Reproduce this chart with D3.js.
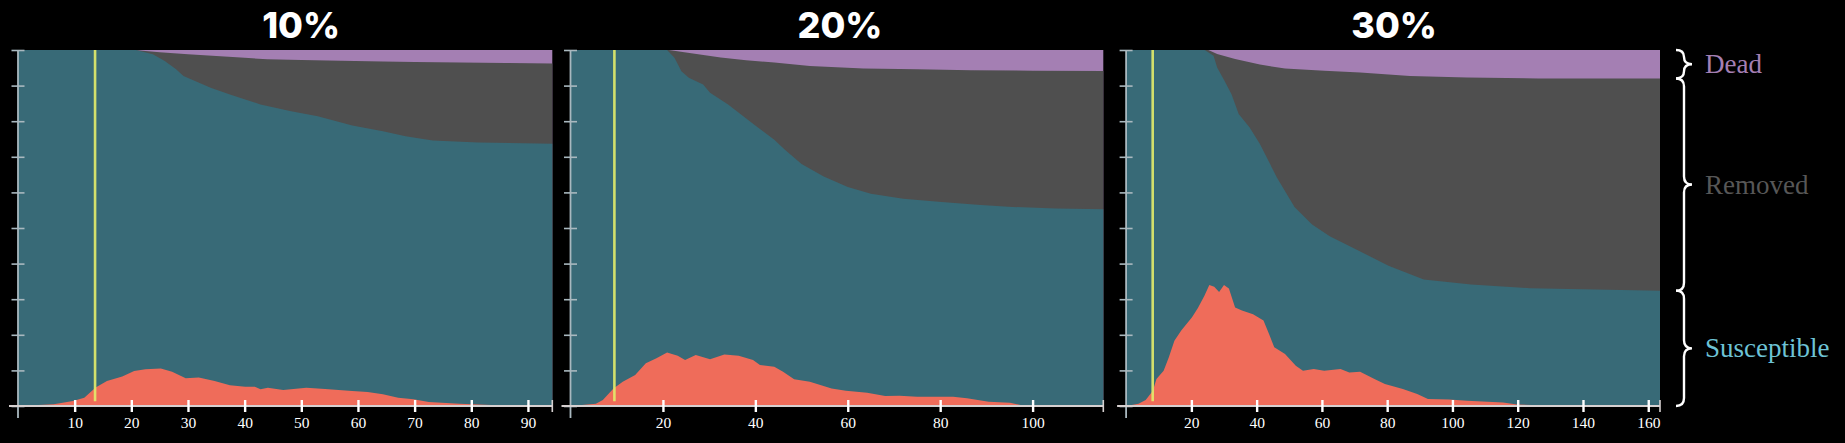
<!DOCTYPE html>
<html>
<head>
<meta charset="utf-8">
<script src="https://cdn.jsdelivr.net/npm/d3@7"></script>
<style>
  html, body { margin: 0; padding: 0; background: #000; }
  svg { display: block; }
</style>
</head>
<body>
<script>
// ---------------- DATA (fractions in %, days on x) ----------------
const titles = ["10%", "20%", "30%"];
const dayMax = [94.3, 115.3, 163.6];
const markerDays = [13.6, 9.5, 8.15];

const p1Ticks = [10, 20, 30, 40, 50, 60, 70, 80, 90];
const p2Ticks = [20, 40, 60, 80, 100];
const p3Ticks = [20, 40, 60, 80, 100, 120, 140, 160];

// Panel 1 (10%)
const p1DeadDays = [0, 20.8, 22, 25, 30, 35, 40, 44, 50, 57, 64.4, 70, 78, 86, 94.3];
const p1Dead     = [0, 0, 0.2, 0.6, 1.2, 1.7, 2.2, 2.6, 2.8, 3.0, 3.2, 3.35, 3.5, 3.65, 3.8];
const p1GoneDays = [0, 20.8, 23.8, 25.9, 27.9, 29.2, 34, 37.4, 42.8, 48.2, 52.9, 59, 64.4, 68.4, 73.2, 81.2, 94.3];
const p1Gone     = [0, 0, 1.2, 3.1, 5.4, 7.3, 10.6, 12.5, 15.3, 17.2, 18.6, 21.2, 22.8, 24.2, 25.4, 26.0, 26.3];
const p1InfDays  = [0, 6.3, 9.7, 11.7, 13.7, 15.7, 18.4, 20.5, 22.5, 25.2, 27.2, 29.6, 31.9, 34.7, 37.4, 40.1, 41.8, 42.8, 44.1, 46.8, 50.9, 54.2, 59, 61.7, 64.4, 67.1, 69.8, 72.5, 77.9, 84.7, 92, 94.3];
const p1Inf      = [0, 0.5, 1.4, 2.3, 5.2, 7.0, 8.3, 9.8, 10.3, 10.5, 9.6, 7.8, 8.0, 7.0, 5.8, 5.4, 5.4, 4.7, 5.1, 4.5, 5.1, 4.8, 4.2, 3.9, 3.3, 2.3, 1.9, 1.1, 0.6, 0.2, 0, 0];

// Panel 2 (20%)
const p2DeadDays = [0, 21.3, 25, 32.5, 38, 44.1, 51.8, 63.4, 75, 86.6, 100, 115.3];
const p2Dead     = [0, 0, 0.7, 2.1, 2.9, 3.5, 4.5, 5.2, 5.4, 5.7, 5.8, 5.9];
const p2GoneDays = [0, 20.9, 22.5, 24, 25.6, 28.7, 30.2, 34.1, 40.2, 44.1, 46.4, 50, 54.8, 60, 65, 72, 80.3, 88, 95.6, 105, 115.3];
const p2Gone     = [0, 0, 2.2, 6, 7.8, 9.7, 12, 15.3, 21.4, 25.2, 28, 32, 35.5, 38.5, 40.4, 41.8, 42.7, 43.5, 44.1, 44.5, 44.7];
const p2InfDays  = [0, 5.5, 7, 9.3, 11.3, 14, 16.3, 18.6, 20.9, 23.2, 24.8, 27.1, 30.2, 33.3, 36.4, 39.5, 41, 44.1, 46, 48.4, 51.8, 56.5, 59.6, 64.2, 68.1, 71.2, 75, 80.5, 82.8, 85.8, 90.5, 95.1, 97.4, 104, 115.3];
const p2Inf      = [0, 0.6, 1.7, 4.9, 6.8, 8.7, 12, 13.4, 15, 14.1, 12.9, 14.3, 13.1, 14.5, 14.1, 12.9, 11.5, 11, 9.6, 7.5, 6.8, 4.9, 4.3, 3.7, 2.8, 2.9, 2.6, 2.6, 2.6, 2.2, 1.2, 0.9, 0.3, 0.1, 0];

// Panel 3 (30%)
const p3DeadDays = [0, 25.2, 27.9, 33.4, 41, 48.7, 60.7, 71.7, 87, 104.5, 126.4, 163.6];
const p3Dead     = [0, 0, 1.1, 2.5, 4.1, 5.2, 5.8, 6.3, 7.3, 7.7, 8.0, 8.0];
const p3GoneDays = [0, 24.1, 26.8, 27.9, 30.1, 32.3, 34.5, 37.8, 41, 46.2, 51.6, 57, 62.4, 69.6, 80.4, 91.2, 105.7, 123.7, 163.6];
const p3Gone     = [0, 0, 1.6, 4.9, 8.6, 12.4, 18, 21.7, 26.4, 35.8, 44.1, 49, 52.3, 55.6, 60.6, 64.5, 65.9, 66.9, 67.6];
const p3InfDays  = [0, 3.8, 6, 8.2, 9.3, 11.5, 13.1, 14.8, 16.9, 20.2, 22, 24, 25.5, 27, 28.5, 30, 31.5, 33.4, 35.5, 38.9, 42.1, 43.8, 45.4, 48.7, 52, 54.2, 57.5, 60.7, 65.7, 68.4, 71.7, 76.1, 79.3, 84.8, 89.2, 92.5, 99, 104.5, 115.5, 119.8, 126.5, 140, 163.6];
const p3Inf      = [0, 0.6, 1.7, 4.3, 7.6, 9.9, 13.7, 18.3, 21.2, 24.9, 27.5, 31, 34, 33.5, 32, 34, 33, 27.7, 26.8, 25.8, 24, 20.2, 16.5, 14.6, 11.3, 9.9, 10.4, 9.9, 10.4, 9.4, 9.6, 7.6, 6.2, 4.8, 3.4, 2, 1.8, 1.5, 1, 0.4, 0.2, 0.1, 0];

const legendLabels = ["Dead", "Removed", "Susceptible"];

// ---------------- LAYOUT / STYLE ----------------
const W = 1845, H = 443;
const yTop = 50, yBot = 406;
const layout = [
  { x0: 18,     x1: 552.3, titleDx: 16 },
  { x0: 570.5,  x1: 1103.3, titleDx: 3 },
  { x0: 1126.1, x1: 1660,  titleDx: 1 }
];
const C = {
  teal: "#386a77", gray: "#4f4f4f", purple: "#a47fb3", red: "#ef6c5a",
  yellow: "#e2ea6c", axisY: "#a9b8bf", axisX: "#d6d0d0",
  labDead: "#a47fb3", labRem: "#575757", labSus: "#6dc3d6"
};

const panelsData = [
  { ticks: p1Ticks, deadD: p1DeadDays, dead: p1Dead, goneD: p1GoneDays, gone: p1Gone, infD: p1InfDays, inf: p1Inf },
  { ticks: p2Ticks, deadD: p2DeadDays, dead: p2Dead, goneD: p2GoneDays, gone: p2Gone, infD: p2InfDays, inf: p2Inf },
  { ticks: p3Ticks, deadD: p3DeadDays, dead: p3Dead, goneD: p3GoneDays, gone: p3Gone, infD: p3InfDays, inf: p3Inf }
];

const svg = d3.select("body").append("svg").attr("width", W).attr("height", H);
svg.append("rect").attr("width", W).attr("height", H).attr("fill", "#000");

const y = d3.scaleLinear().domain([0, 100]).range([yBot, yTop]);

let lastY = null;
panelsData.forEach((pd, i) => {
  const L = layout[i];
  const x = d3.scaleLinear().domain([0, dayMax[i]]).range([L.x0, L.x1]);
  const g = svg.append("g");

  const zip = (ds, vs) => ds.map((d, k) => ({ d, v: vs[k] }));

  // purple (full height)
  const full = [{ d: 0 }, { d: dayMax[i] }];
  g.append("path")
    .attr("d", d3.area().x(p => x(p.d)).y0(y(0)).y1(y(100))(full))
    .attr("fill", C.purple);
  // gray: up to 100 - dead
  g.append("path")
    .attr("d", d3.area().x(p => x(p.d)).y0(y(0)).y1(p => y(100 - p.v))(zip(pd.deadD, pd.dead)))
    .attr("fill", C.gray);
  // teal: up to 100 - (removed+dead)
  g.append("path")
    .attr("d", d3.area().x(p => x(p.d)).y0(y(0)).y1(p => y(100 - p.v))(zip(pd.goneD, pd.gone)))
    .attr("fill", C.teal);
  // red: infected
  g.append("path")
    .attr("d", d3.area().x(p => x(p.d)).y0(y(0)).y1(p => y(p.v))(zip(pd.infD, pd.inf)))
    .attr("fill", C.red);

  // yellow marker
  g.append("line")
    .attr("x1", x(markerDays[i])).attr("x2", x(markerDays[i]))
    .attr("y1", y(100)).attr("y2", y(1.3))
    .attr("stroke", C.yellow).attr("stroke-width", 2.6).attr("opacity", 0.92);

  // y axis
  const ya = g.append("g").attr("transform", `translate(${L.x0},0)`)
    .call(d3.axisLeft(y).tickValues(d3.range(0, 101, 10)).tickFormat("").tickSizeOuter(0));
  ya.select(".domain").remove();
  ya.selectAll(".tick line").attr("x1", -6.5).attr("x2", 6.5)
    .attr("stroke", C.axisY).attr("stroke-width", 1.6);
  g.append("line").attr("x1", L.x0).attr("x2", L.x0).attr("y1", y(100)).attr("y2", yBot + 12)
    .attr("stroke", C.axisY).attr("stroke-width", 1.8);

  // x axis
  g.append("line").attr("x1", L.x0 - 9).attr("x2", L.x1).attr("y1", yBot).attr("y2", yBot)
    .attr("stroke", C.axisX).attr("stroke-width", 1.8);
  g.append("line").attr("x1", L.x1).attr("x2", L.x1).attr("y1", yBot - 6).attr("y2", yBot + 6)
    .attr("stroke", C.axisX).attr("stroke-width", 1.6);
  const xa = g.append("g").attr("transform", `translate(0,${yBot})`)
    .call(d3.axisBottom(x).tickValues(pd.ticks).tickFormat(d3.format("d")).tickSizeOuter(0));
  xa.select(".domain").remove();
  xa.selectAll(".tick line").attr("y1", -6).attr("y2", 6).attr("stroke", "#fff").attr("stroke-width", 2.4);
  xa.selectAll(".tick text").attr("y", 22).attr("dy", 0)
    .attr("fill", "#fff").attr("font-family", "'Liberation Serif', 'DejaVu Serif', serif")
    .attr("font-size", 15.5);

  // title
  svg.append("text")
    .attr("x", (L.x0 + L.x1) / 2 + L.titleDx).attr("y", 37.5)
    .attr("text-anchor", "middle")
    .attr("fill", "#fff").attr("font-family", "Inter, 'Open Sans', sans-serif")
    .attr("font-weight", 800).attr("font-size", 36)
    .text(titles[i]);

  if (i === 2) lastY = { dead: pd.dead[pd.dead.length - 1], gone: pd.gone[pd.gone.length - 1] };
});

// ---------------- LEGEND BRACES ----------------
function brace(xl, y0, y1, w) {
  const mid = (y0 + y1) / 2, q = Math.min(w / 2, (y1 - y0) / 4);
  const xm = xl + w / 2;
  return `M${xl},${y0} Q${xm},${y0} ${xm},${y0 + q} L${xm},${mid - q} Q${xm},${mid} ${xl + w},${mid}` +
         ` Q${xm},${mid} ${xm},${mid + q} L${xm},${y1 - q} Q${xm},${y1} ${xl},${y1}`;
}
const bounds = [
  [y(100), y(100 - lastY.dead)],
  [y(100 - lastY.dead), y(100 - lastY.gone)],
  [y(100 - lastY.gone), y(0)]
];
const labColors = [C.labDead, C.labRem, C.labSus];
bounds.forEach((b, k) => {
  svg.append("path").attr("d", brace(1676, b[0], b[1], 16))
    .attr("fill", "none").attr("stroke", "#fff").attr("stroke-width", 2.4);
  svg.append("text").attr("x", 1705).attr("y", (b[0] + b[1]) / 2 + 9)
    .attr("fill", labColors[k])
    .attr("font-family", "'Liberation Serif', 'DejaVu Serif', serif")
    .attr("font-size", 27)
    .text(legendLabels[k]);
});
</script>
</body>
</html>
